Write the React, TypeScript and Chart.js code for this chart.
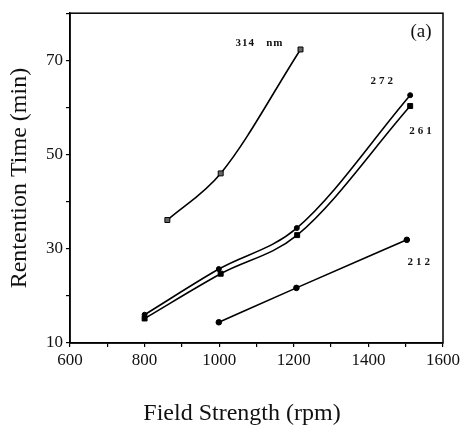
import React, { useEffect, useRef } from 'react';
import { Chart, registerables } from 'chart.js';

Chart.register(...registerables);

// ---- data ----
const field314 = [861, 1004, 1218];
const retention314 = [36.1, 46.0, 72.3];
const field272 = [800, 999, 1208, 1512];
const retention272 = [16.0, 25.7, 34.4, 62.6];
const field261 = [800, 1004, 1209, 1512];
const retention261 = [15.2, 24.7, 32.9, 60.3];
const field212 = [999, 1207, 1503];
const retention212 = [14.4, 21.7, 31.9];

const xTickLabels = [600, 800, 1000, 1200, 1400, 1600];
const yTickLabels = [10, 30, 50, 70];

const xTitle = 'Field Strength (rpm)';
const yTitle = 'Rentention Time (min)';
const panelLabel = '(a)';
const seriesNames = ['314   nm', '272', '261', '212'];

const toPoints = (xs: number[], ys: number[]) => xs.map((x, i) => ({ x, y: ys[i] }));

const SERIF = '"Liberation Serif", "DejaVu Serif", serif';

const decorPlugin = {
  id: 'decor',
  afterDraw(chart: any) {
    const { ctx, chartArea } = chart;
    const xs = chart.scales.x;
    const ys = chart.scales.y;
    ctx.save();
    // frame
    ctx.strokeStyle = '#000';
    ctx.lineWidth = 1.5;
    ctx.strokeRect(chartArea.left, chartArea.top, chartArea.right - chartArea.left, chartArea.bottom - chartArea.top);

    ctx.fillStyle = '#111';
    ctx.textAlign = 'center';
    ctx.textBaseline = 'middle';

    // series labels (anchored in data coordinates)
    const labelAnchors = [
      { text: seriesNames[0], x: 1108, y: 73.7, spacing: '1px' },
      { text: seriesNames[1], x: 1440, y: 65.6, spacing: '3px' },
      { text: seriesNames[2], x: 1544, y: 55.0, spacing: '3px' },
      { text: seriesNames[3], x: 1539, y: 27.2, spacing: '3px' },
    ];
    ctx.font = `bold 11px ${SERIF}`;
    for (const a of labelAnchors) {
      (ctx as any).letterSpacing = a.spacing;
      ctx.fillText(a.text, xs.getPixelForValue(a.x), ys.getPixelForValue(a.y));
    }
    (ctx as any).letterSpacing = '0px';

    // panel label
    ctx.font = `19px ${SERIF}`;
    ctx.fillText(panelLabel, xs.getPixelForValue(1541), ys.getPixelForValue(76));

    // x title
    ctx.font = `24px ${SERIF}`;
    ctx.fillText(xTitle, 242, 414);
    ctx.restore();
  },
};

export default function App() {
  const ref = useRef<HTMLCanvasElement>(null);

  useEffect(() => {
    if (!ref.current) return;
    const line = (data: any, style: string, radius: number, fill: string) => ({
      data,
      borderColor: '#000',
      borderWidth: 1.6,
      pointStyle: style,
      pointRadius: radius,
      pointBackgroundColor: fill,
      pointBorderColor: '#000',
      pointBorderWidth: 1,
      cubicInterpolationMode: 'monotone',
      fill: false,
    });
    const chart = new Chart(ref.current, {
      type: 'line',
      data: {
        datasets: [
          line(toPoints(field314, retention314), 'rect', 3.5, '#666'),
          line(toPoints(field272, retention272), 'circle', 2.5, '#000'),
          line(toPoints(field261, retention261), 'rect', 3.5, '#000'),
          line(toPoints(field212, retention212), 'circle', 2.8, '#000'),
        ] as any,
      },
      options: {
        animation: false,
        responsive: false,
        layout: { padding: { left: 0, right: 20, top: 13, bottom: 0 } },
        plugins: { legend: { display: false }, tooltip: { enabled: false } },
        scales: {
          x: {
            type: 'linear',
            min: 600,
            max: 1600,
            afterFit: (s: any) => { s.height = 86; },
            ticks: {
              stepSize: 100,
              autoSkip: false,
              maxRotation: 0,
              padding: 3,
              color: '#111',
              font: { family: SERIF, size: 17 },
              callback: (v: any) => (xTickLabels.includes(v) ? String(v) : ''),
            },
            grid: { drawOnChartArea: false, drawTicks: true, tickLength: 4, color: '#000', lineWidth: 1.2 },
            border: { display: true, color: '#000', width: 1.5 },
          },
          y: {
            type: 'linear',
            min: 10,
            max: 80,
            afterFit: (s: any) => { s.width = 70; },
            ticks: {
              stepSize: 10,
              autoSkip: false,
              padding: 3,
              color: '#111',
              font: { family: SERIF, size: 17 },
              callback: (v: any) => (yTickLabels.includes(v) ? String(v) : ''),
            },
            title: {
              display: true,
              text: yTitle,
              color: '#111',
              font: { family: SERIF, size: 24 },
              padding: { top: 5, bottom: 0 },
            },
            grid: { drawOnChartArea: false, drawTicks: true, tickLength: 4, color: '#000', lineWidth: 1.2 },
            border: { display: true, color: '#000', width: 1.5 },
          },
        },
      },
      plugins: [decorPlugin],
    });
    return () => chart.destroy();
  }, []);

  return (
    <canvas
      ref={ref}
      width={463}
      height={429}
      style={{ position: 'absolute', left: 0, top: 0, width: 463, height: 429, background: '#fff' }}
    />
  );
}
